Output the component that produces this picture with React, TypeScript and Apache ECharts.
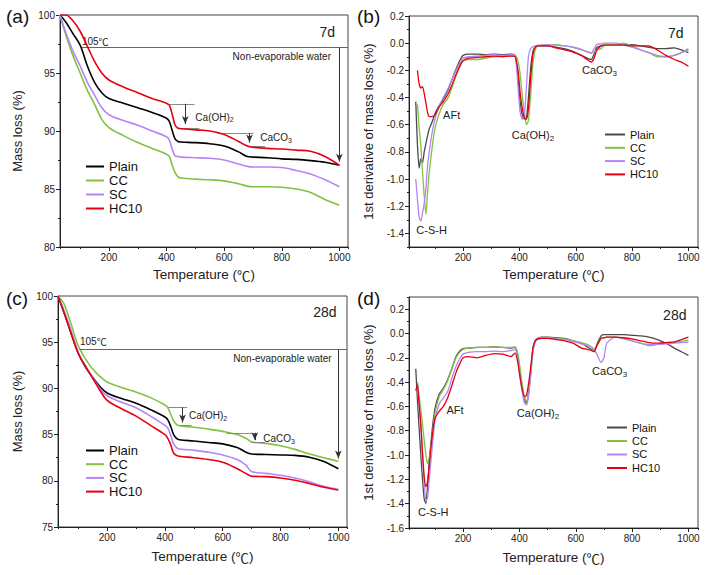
import React, { useEffect, useRef } from "react";
import * as echarts from "echarts";

const FONT = "'Liberation Sans', Arial, 'Noto Sans CJK SC', sans-serif";
const CJK = "'Noto Sans CJK SC', 'Liberation Sans', sans-serif";
const NAMES = ["Plain", "CC", "SC", "HC10"];
const COLORS_TG = ["#000000", "#80c342", "#b684f5", "#e60012"];
const COLORS_DTG = ["#4a4a4a", "#80c342", "#b684f5", "#e60012"];

// ---- TG curves (mass loss %) ----
const TEMPS_TG = [30, 50, 75, 100, 125, 150, 175, 200, 250, 300, 350, 400, 410, 420, 430, 440, 450, 500, 550, 600, 650, 680, 700, 750, 800, 850, 900, 950, 1000];

const TG7_PLAIN = [100, 99.4, 98.4, 97.4, 95.6, 94.2, 93.3, 92.8, 92.4, 92.0, 91.6, 91.1, 90.8, 90.0, 89.3, 89.1, 89.05, 89.0, 88.9, 88.7, 88.2, 87.8, 87.75, 87.7, 87.6, 87.55, 87.45, 87.3, 87.05];
const TG7_CC = [100, 98.3, 96.5, 95.0, 93.5, 92.3, 91.0, 90.3, 89.6, 89.0, 88.5, 88.0, 87.8, 87.0, 86.4, 86.05, 85.95, 85.85, 85.8, 85.7, 85.45, 85.25, 85.2, 85.2, 85.15, 85.0, 84.7, 84.1, 83.6];
const TG7_SC = [100, 98.5, 96.9, 95.6, 94.2, 93.1, 92.0, 91.4, 90.9, 90.5, 90.0, 89.5, 89.2, 88.4, 87.85, 87.8, 87.75, 87.7, 87.65, 87.5, 87.15, 86.95, 86.9, 86.9, 86.85, 86.6, 86.3, 85.8, 85.2];
const TG7_HC10 = [100, 100, 99.5, 98.6, 97.3, 96.0, 95.0, 94.4, 93.8, 93.3, 92.8, 92.4, 92.2, 91.4, 90.5, 90.25, 90.2, 90.1, 90.0, 89.7, 89.1, 88.7, 88.6, 88.5, 88.45, 88.35, 88.25, 87.8, 87.05];

const TG28_PLAIN = [100, 98.3, 96.0, 93.8, 92.3, 91.2, 90.2, 89.5, 88.9, 88.4, 87.7, 86.9, 86.6, 85.9, 85.0, 84.6, 84.45, 84.3, 84.15, 84.0, 83.6, 83.1, 82.9, 82.85, 82.8, 82.75, 82.55, 82.1, 81.3];
const TG28_CC = [100, 99.2, 97.0, 94.6, 93.2, 92.1, 91.3, 90.7, 90.1, 89.6, 89.0, 88.2, 87.9, 87.2, 86.5, 86.1, 85.95, 85.8, 85.6, 85.35, 85.0, 84.6, 84.2, 84.05, 83.8, 83.4, 82.9, 82.5, 82.1];
const TG28_SC = [100, 98.5, 96.3, 93.9, 92.4, 91.2, 90.0, 89.2, 88.5, 87.9, 87.0, 86.0, 85.7, 84.9, 84.0, 83.6, 83.45, 83.3, 83.1, 82.8, 82.3, 81.7, 81.0, 80.8, 80.6, 80.3, 79.9, 79.4, 79.05];
const TG28_HC10 = [100, 98.3, 96.0, 93.8, 92.4, 91.1, 89.8, 88.7, 87.8, 87.0, 86.0, 85.0, 84.6, 83.9, 83.0, 82.75, 82.65, 82.5, 82.3, 82.0, 81.3, 80.8, 80.5, 80.45, 80.3, 80.05, 79.7, 79.3, 79.0];

// ---- DTG curves (1st derivative) ----
const TEMPS_DTG = [32, 38, 44, 50, 56, 62, 68, 74, 80, 90, 100, 115, 130, 145, 160, 175, 190, 200, 220, 250, 280, 310, 340, 370, 385, 395, 402, 410, 418, 425, 432, 440, 448, 456, 465, 480, 500, 530, 560, 590, 620, 640, 655, 665, 675, 690, 700, 710, 740, 770, 800, 830, 860, 890, 920, 950, 975, 1000];

const DTG7_PLAIN = [-0.43, -0.75, -0.92, -0.85, -0.88, -0.8, -0.74, -0.68, -0.63, -0.58, -0.52, -0.46, -0.41, -0.35, -0.27, -0.19, -0.12, -0.09, -0.08, -0.08, -0.085, -0.08, -0.085, -0.08, -0.09, -0.25, -0.42, -0.53, -0.56, -0.55, -0.4, -0.18, -0.06, -0.03, -0.02, -0.02, -0.02, -0.03, -0.04, -0.06, -0.09, -0.11, -0.12, -0.08, -0.03, -0.02, -0.015, -0.01, -0.01, -0.01, -0.01, -0.02, -0.03, -0.04, -0.04, -0.035, -0.05, -0.07];
const DTG7_CC = [null, -0.45, -0.62, -0.75, -0.95, -1.12, -1.26, -1.1, -0.95, -0.77, -0.63, -0.52, -0.45, -0.41, -0.33, -0.24, -0.17, -0.13, -0.12, -0.12, -0.11, -0.1, -0.095, -0.09, -0.09, -0.13, -0.22, -0.38, -0.52, -0.6, -0.57, -0.38, -0.15, -0.05, -0.02, -0.015, -0.01, -0.01, -0.02, -0.03, -0.05, -0.06, -0.07, -0.065, -0.05, -0.04, -0.02, -0.01, -0.01, 0.0, -0.02, -0.05, -0.07, -0.1, -0.1, -0.09, -0.07, -0.04];
const DTG7_SC = [-1.0, -1.15, -1.28, -1.31, -1.25, -1.18, -1.07, -0.9, -0.8, -0.66, -0.56, -0.46, -0.4, -0.34, -0.27, -0.2, -0.14, -0.11, -0.1, -0.095, -0.09, -0.085, -0.09, -0.085, -0.09, -0.32, -0.5, -0.56, -0.52, -0.32, -0.1, -0.04, -0.025, -0.02, -0.015, -0.015, -0.01, -0.015, -0.02, -0.03, -0.045, -0.065, -0.075, -0.04, -0.01, -0.005, 0.0, 0.0, 0.0, -0.01, -0.03, -0.05, -0.07, -0.09, -0.1, -0.09, -0.07, -0.05];
const DTG7_HC10 = [null, -0.2, -0.3, -0.33, -0.32, -0.37, -0.44, -0.51, -0.54, -0.54, -0.53, -0.47, -0.43, -0.38, -0.31, -0.23, -0.16, -0.13, -0.11, -0.105, -0.1, -0.095, -0.1, -0.095, -0.1, -0.2, -0.35, -0.48, -0.55, -0.56, -0.48, -0.25, -0.08, -0.03, -0.02, -0.02, -0.02, -0.035, -0.05, -0.065, -0.09, -0.12, -0.14, -0.11, -0.05, -0.02, -0.015, -0.015, -0.015, -0.015, -0.02, -0.02, -0.02, -0.05, -0.09, -0.12, -0.14, -0.17];

const DTG28_PLAIN = [-0.29, -0.55, -0.78, -1.0, -1.2, -1.36, -1.4, -1.25, -1.05, -0.8, -0.62, -0.5, -0.45, -0.38, -0.29, -0.19, -0.14, -0.125, -0.12, -0.115, -0.115, -0.11, -0.115, -0.12, -0.115, -0.2, -0.31, -0.45, -0.55, -0.57, -0.5, -0.32, -0.12, -0.06, -0.04, -0.03, -0.03, -0.035, -0.04, -0.06, -0.08, -0.11, -0.13, -0.15, -0.09, -0.02, -0.01, -0.01, -0.01, -0.01, -0.015, -0.02, -0.03, -0.05, -0.08, -0.12, -0.15, -0.18];
const DTG28_CC = [null, -0.4, -0.52, -0.62, -0.75, -0.88, -1.0, -1.07, -1.02, -0.85, -0.66, -0.52, -0.46, -0.39, -0.29, -0.2, -0.15, -0.13, -0.12, -0.115, -0.115, -0.11, -0.115, -0.115, -0.11, -0.17, -0.28, -0.42, -0.52, -0.56, -0.5, -0.35, -0.15, -0.07, -0.045, -0.035, -0.035, -0.04, -0.045, -0.06, -0.075, -0.09, -0.11, -0.13, -0.1, -0.04, -0.035, -0.03, -0.03, -0.045, -0.06, -0.08, -0.1, -0.09, -0.08, -0.075, -0.065, -0.055];
const DTG28_SC = [null, -0.42, -0.6, -0.75, -1.0, -1.22, -1.38, -1.35, -1.2, -0.95, -0.72, -0.58, -0.53, -0.48, -0.37, -0.27, -0.2, -0.17, -0.155, -0.15, -0.15, -0.145, -0.15, -0.14, -0.13, -0.22, -0.35, -0.48, -0.57, -0.59, -0.52, -0.33, -0.14, -0.07, -0.05, -0.04, -0.04, -0.045, -0.05, -0.065, -0.085, -0.1, -0.11, -0.13, -0.17, -0.24, -0.2, -0.08, -0.03, -0.04, -0.06, -0.08, -0.09, -0.09, -0.085, -0.08, -0.075, -0.07];
const DTG28_HC10 = [-0.47, -0.42, -0.58, -0.75, -0.98, -1.18, -1.26, -1.22, -1.08, -0.85, -0.7, -0.64, -0.6, -0.53, -0.43, -0.32, -0.24, -0.2, -0.19, -0.2, -0.18, -0.165, -0.17, -0.19, -0.16, -0.25, -0.36, -0.46, -0.52, -0.51, -0.42, -0.28, -0.12, -0.06, -0.045, -0.04, -0.04, -0.05, -0.06, -0.08, -0.12, -0.13, -0.14, -0.15, -0.1, -0.04, -0.035, -0.03, -0.03, -0.035, -0.045, -0.06, -0.075, -0.08, -0.075, -0.07, -0.05, -0.03];

// ---- annotation lines (data coords): x1, y1, x2, y2, arrow ----
const MARKS_7D = [
  [105, 97.19, 1030, 97.19, 0],
  [1000, 97.19, 1000, 87.35, 1],
  [401, 92.34, 497, 92.34, 0],
  [465, 92.34, 465, 90.6, 1],
  [436, 90.27, 514, 90.27, 0],
  [575, 89.84, 702, 89.84, 0],
  [688, 89.84, 688, 89.0, 1],
  [684, 88.7, 742, 88.7, 0],
];
const MARKS_28D = [
  [105, 94.2, 1030, 94.2, 0],
  [1000, 94.2, 1000, 82.4, 1],
  [411, 87.95, 477, 87.95, 0],
  [461, 87.95, 461, 86.3, 1],
  [452, 86.0, 492, 86.0, 0],
  [613, 85.2, 717, 85.2, 0],
  [711, 85.2, 711, 84.4, 1],
  [700, 84.15, 746, 84.15, 0],
];

// ---- annotation texts (panel, x, y, text, align, size) ----
const NOTES: [number, number, number, string, string, number][] = [
  [0, 106, 97.68, "105{c|℃}", "left", 10],
  [0, 971, 96.4, "Non-evaporable water", "right", 10],
  [0, 500, 91.2, "Ca(OH){s|2}", "left", 10],
  [0, 725, 89.4, "CaCO{s|3}", "left", 10],
  [0, 985, 98.5, "7d", "right", 14],
  [1, 129, -0.53, "AFt", "left", 11],
  [1, 34, -1.375, "C-S-H", "left", 11],
  [1, 448, -0.676, "Ca(OH){s|2}", "center", 11],
  [1, 622, -0.2, "CaCO{s|3}", "left", 11],
  [1, 983, 0.076, "7d", "right", 14],
  [2, 106, 95.04, "105{c|℃}", "left", 10],
  [2, 977, 93.24, "Non-evaporable water", "right", 10],
  [2, 483, 87.05, "Ca(OH){s|2}", "left", 10],
  [2, 740, 84.53, "CaCO{s|3}", "left", 10],
  [2, 994, 98.27, "28d", "right", 14],
  [3, 141, -0.63, "AFt", "left", 11],
  [3, 40, -1.47, "C-S-H", "left", 11],
  [3, 466, -0.656, "Ca(OH){s|2}", "center", 11],
  [3, 658, -0.31, "CaCO{s|3}", "left", 11],
  [3, 993, 0.156, "28d", "right", 14],
];

const PANEL_LABELS = ["(a)", "(b)", "(c)", "(d)"];

const PANELS = [
  {
    grid: { left: 60, top: 15, width: 288, height: 232 },
    x: [30, 1030], y: [80, 100], yMajor: 5, yMinor: 2.5, yAuto: false, showMinY: true, showMaxY: true,
    temps: TEMPS_TG, values: [TG7_PLAIN, TG7_CC, TG7_SC, TG7_HC10], colors: COLORS_TG, lw: 1.6, smooth: 0.35,
    yName: "Mass loss (%)", yNameGap: 36, xNameGap: 21, dec: 0, marks: MARKS_7D,
    legend: { left: 86, top: 160, fontSize: 13, gap: 1, itemWidth: 18 },
    label: { x: 6, y: 16 },
  },
  {
    grid: { left: 409, top: 16, width: 289, height: 231 },
    x: [8, 1034], y: [-1.5, 0.2], yMajor: 0.2, yMinor: 0.1, yAuto: true, showMinY: false, showMaxY: true,
    temps: TEMPS_DTG, values: [DTG7_PLAIN, DTG7_CC, DTG7_SC, DTG7_HC10], colors: COLORS_DTG, lw: 1.3, smooth: 0.2,
    yName: "1st derivative of mass loss (%)", yNameGap: 34, xNameGap: 21, dec: 1, marks: null,
    legend: { left: 605, top: 129, fontSize: 11, gap: 2.3, itemWidth: 20 },
    label: { x: 357, y: 16 },
  },
  {
    grid: { left: 58, top: 296, width: 289, height: 231 },
    x: [30, 1030], y: [75, 100], yMajor: 5, yMinor: 2.5, yAuto: false, showMinY: true, showMaxY: true,
    temps: TEMPS_TG, values: [TG28_PLAIN, TG28_CC, TG28_SC, TG28_HC10], colors: COLORS_TG, lw: 1.6, smooth: 0.35,
    yName: "Mass loss (%)", yNameGap: 34, xNameGap: 23, dec: 0, marks: MARKS_28D,
    legend: { left: 86, top: 444, fontSize: 13, gap: 0.7, itemWidth: 18 },
    label: { x: 6, y: 298 },
  },
  {
    grid: { left: 409, top: 297, width: 289, height: 231 },
    x: [8, 1034], y: [-1.6, 0.3], yMajor: 0.2, yMinor: 0.1, yAuto: false, showMinY: true, showMaxY: false,
    temps: TEMPS_DTG, values: [DTG28_PLAIN, DTG28_CC, DTG28_SC, DTG28_HC10], colors: COLORS_DTG, lw: 1.3, smooth: 0.2,
    yName: "1st derivative of mass loss (%)", yNameGap: 34, xNameGap: 23, dec: 1, marks: null,
    legend: { left: 607, top: 422, fontSize: 11, gap: 2.5, itemWidth: 20 },
    label: { x: 357, y: 298 },
  },
];

const AXIS_COLOR = "#222";

function buildOption() {
  const grid: any[] = [];
  const xAxis: any[] = [];
  const yAxis: any[] = [];
  const series: any[] = [];
  const legend: any[] = [];

  PANELS.forEach((p, pi) => {
    grid.push({
      ...p.grid, show: true, borderColor: "#444", borderWidth: 1,
      backgroundColor: "transparent", containLabel: false, outerBoundsMode: "none",
    });
    // primary x
    xAxis.push({
      type: "value", gridIndex: pi, position: "bottom", min: p.x[0], max: p.x[1],
      splitNumber: 5, minInterval: 200, maxInterval: 200,
      axisLine: { show: true, onZero: false, lineStyle: { color: AXIS_COLOR, width: 1 } },
      axisTick: { show: true, inside: false, length: 4, lineStyle: { color: AXIS_COLOR } },
      axisLabel: {
        show: true, fontSize: 10, color: AXIS_COLOR, fontFamily: FONT, margin: 5,
        showMinLabel: false, showMaxLabel: false, formatter: (v: number) => String(Math.round(v)),
      },
      splitLine: { show: false },
      name: "Temperature ({c|℃})", nameLocation: "middle", nameGap: p.xNameGap,
      nameTextStyle: {
        fontSize: 13.5, color: AXIS_COLOR, fontFamily: FONT,
        rich: { c: { fontSize: 13.5, fontFamily: CJK, color: AXIS_COLOR } },
      },
    });
    // minor x
    xAxis.push({
      type: "value", gridIndex: pi, position: "bottom", offset: 0, min: p.x[0], max: p.x[1],
      splitNumber: 10, minInterval: 100, maxInterval: 100,
      axisLine: { show: false, onZero: false },
      axisTick: { show: true, inside: false, length: 2, lineStyle: { color: AXIS_COLOR } },
      axisLabel: { show: false }, splitLine: { show: false },
    });
    const yPrim: any = {
      type: "value", gridIndex: pi, position: "left", min: p.y[0], max: p.y[1],
      axisLine: { show: true, onZero: false, lineStyle: { color: AXIS_COLOR, width: 1 } },
      axisTick: { show: true, inside: false, length: 4, lineStyle: { color: AXIS_COLOR } },
      axisLabel: {
        show: true, fontSize: 10, color: AXIS_COLOR, fontFamily: FONT, margin: 5,
        showMinLabel: p.showMinY, showMaxLabel: p.showMaxY,
        formatter: (v: number) => v.toFixed(p.dec),
      },
      splitLine: { show: false },
      name: p.yName, nameLocation: "middle", nameRotate: 90, nameGap: p.yNameGap,
      nameTextStyle: { fontSize: 13, color: AXIS_COLOR, fontFamily: FONT },
    };
    if (p.yAuto) {
      yPrim.splitNumber = 8;
      yPrim.minInterval = p.yMajor;
      yPrim.maxInterval = p.yMajor;
    } else {
      yPrim.interval = p.yMajor;
    }
    yAxis.push(yPrim);
    yAxis.push({
      type: "value", gridIndex: pi, position: "left", offset: 0, min: p.y[0], max: p.y[1],
      interval: p.yMinor,
      axisLine: { show: false, onZero: false },
      axisTick: { show: true, inside: false, length: 2, lineStyle: { color: AXIS_COLOR } },
      axisLabel: { show: false }, splitLine: { show: false },
    });

    p.values.forEach((vals, k) => {
      const s: any = {
        type: "line", name: NAMES[k], xAxisIndex: pi * 2, yAxisIndex: pi * 2,
        symbol: "none", smooth: p.smooth, silent: true, z: 2 + k,
        emphasis: { disabled: true },
        lineStyle: { color: p.colors[k], width: p.lw },
        itemStyle: { color: p.colors[k] },
        data: p.temps.map((t, i) => [t, vals[i]]).filter((d) => d[1] !== null),
      };
      if (k === 0 && p.marks) {
        s.markLine = {
          silent: true, animation: false, symbol: ["none", "none"],
          label: { show: false }, emphasis: { disabled: true },
          data: p.marks.map((m, mi) => {
            const isArrow = m[4] === 1;
            const color = isArrow ? "#333" : mi === 0 ? "#666" : "#8a8a8a";
            const ls = { color, width: 1, type: "solid" };
            return [
              { coord: [m[0], m[1]], symbol: "none", lineStyle: ls },
              { coord: [m[2], m[3]], symbol: isArrow ? "arrow" : "none", symbolSize: isArrow ? [5, 8] : 0, itemStyle: { color }, lineStyle: ls },
            ];
          }),
        };
      }
      series.push(s);
    });

    legend.push({
      show: true, orient: "vertical", left: p.legend.left, top: p.legend.top,
      itemWidth: p.legend.itemWidth, itemHeight: 2, itemGap: p.legend.gap, padding: 0,
      selectedMode: false, icon: "rect",
      textStyle: { fontSize: p.legend.fontSize, fontFamily: FONT, color: "#111" },
      data: NAMES.map((n, k) => ({ name: n, icon: "rect", itemStyle: { color: p.colors[k] } })),
    });
  });

  return { animation: false, backgroundColor: "#ffffff", grid, xAxis, yAxis, series, legend, tooltip: { show: false } };
}

export default function App() {
  const ref = useRef<HTMLDivElement>(null);
  useEffect(() => {
    if (!ref.current) return;
    const chart = echarts.init(ref.current, null, { renderer: "svg" });
    chart.setOption(buildOption() as any);

    const graphic: any[] = [];
    PANELS.forEach((p, pi) => {
      graphic.push({
        type: "text", x: p.label.x, y: p.label.y, silent: true,
        style: { text: PANEL_LABELS[pi], fontSize: 19, fontFamily: FONT, fill: "#111", align: "left", verticalAlign: "middle" },
      });
    });
    NOTES.forEach(([pi, x, y, t, align, size]) => {
      const pt = chart.convertToPixel({ seriesIndex: pi * 4 } as any, [x, y]) as number[];
      if (!pt) return;
      graphic.push({
        type: "text", x: pt[0], y: pt[1], silent: true,
        style: {
          text: t, fontSize: size, fontFamily: FONT, fill: "#222", align, verticalAlign: "middle",
          rich: {
            s: { fontSize: Math.round(size * 0.7), fontFamily: FONT, fill: "#222", padding: [Math.round(size * 0.5), 0, 0, 0] },
            c: { fontSize: size, fontFamily: CJK, fill: "#222" },
          },
        },
      });
    });
    chart.setOption({ graphic });
    return () => chart.dispose();
  }, []);
  return (
    <div
      ref={ref}
      style={{ position: "absolute", left: 0, top: 0, width: 709, height: 575, background: "#fff" }}
    />
  );
}
